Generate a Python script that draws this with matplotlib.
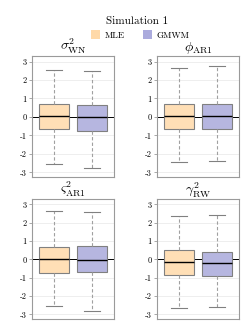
import matplotlib
matplotlib.use("Agg")
import matplotlib.pyplot as plt
from matplotlib.patches import Patch

plt.rcParams['font.family'] = 'serif'
plt.rcParams['font.serif'] = ['cmr10', 'DejaVu Serif']
plt.rcParams['mathtext.fontset'] = 'cm'
plt.rcParams['axes.unicode_minus'] = False
plt.rcParams['axes.formatter.use_mathtext'] = True

methods = ["MLE", "GMWM"]
titles = [r"$\sigma^2_{\mathrm{WN}}$", r"$\phi_{\mathrm{AR1}}$",
          r"$\varsigma^2_{\mathrm{AR1}}$", r"$\gamma^2_{\mathrm{RW}}$"]
# stats per panel per method: (lower whisker, Q1, median, Q3, upper whisker)
mle_stats = [(-2.54, -0.67, 0.05, 0.70, 2.52),
             (-2.43, -0.63, 0.03, 0.70, 2.63),
             (-2.53, -0.72, 0.04, 0.67, 2.62),
             (-2.64, -0.83, -0.14, 0.49, 2.35)]
gmwm_stats = [(-2.74, -0.74, 0.02, 0.63, 2.50),
              (-2.38, -0.67, 0.05, 0.70, 2.76),
              (-2.80, -0.69, -0.02, 0.72, 2.58),
              (-2.62, -0.90, -0.20, 0.43, 2.40)]
yticks = [-3, -2, -1, 0, 1, 2, 3]
ytick_labels = ["-3", "-2", "-1", "0", "1", "2", "3"]
colors = ["#FFDFB6", "#B6B6E0"]
legend_colors = ["#FFD9A8", "#ABABDD"]

fig = plt.figure(figsize=(2.5, 3.25), dpi=100)
W, H = 250, 325
panels = [(32, 56, 82, 121), (157, 56, 82, 121), (32, 199, 82, 120), (157, 199, 82, 120)]

for i, (x0, y0, w, h) in enumerate(panels):
    ax = fig.add_axes([x0 / W, 1 - (y0 + h) / H, w / W, h / H])
    bxp = []
    for st in (mle_stats[i], gmwm_stats[i]):
        bxp.append(dict(whislo=st[0], q1=st[1], med=st[2], q3=st[3], whishi=st[4], fliers=[]))
    b = ax.bxp(bxp, positions=[1, 2], widths=0.8, patch_artist=True, showfliers=False,
               boxprops=dict(edgecolor="#808080", linewidth=0.8),
               medianprops=dict(color="black", linewidth=1.0),
               whiskerprops=dict(color="#a0a0a0", linewidth=0.8, linestyle=(0, (3, 2))),
               capprops=dict(color="#808080", linewidth=0.8), capwidths=0.4)
    for p, c in zip(b['boxes'], colors):
        p.set_facecolor(c)
    ax.axhline(0, color="black", linewidth=0.7, zorder=1)
    ax.set_xlim(0.42, 2.58)
    ax.set_ylim(-3.25, 3.3)
    ax.set_yticks(yticks)
    ax.set_yticklabels(ytick_labels, fontsize=6)
    ax.set_xticks([])
    ax.grid(axis='y', color="#ebebeb", linewidth=0.6)
    ax.set_axisbelow(True)
    for s in ax.spines.values():
        s.set_color("#9a9a9a")
        s.set_linewidth(0.8)
    ax.tick_params(axis='y', length=2, width=0.6, color="#9a9a9a", pad=2)
    ax.set_title(titles[i], fontsize=10, pad=1)

fig.text(137 / W, 1 - 21 / H, "Simulation 1", ha="center", va="center", fontsize=8)
handles = [Patch(facecolor=c, edgecolor="none") for c in legend_colors]
fig.legend(handles, methods, loc="center", bbox_to_anchor=(140 / W, 1 - 35 / H), ncol=2,
           frameon=False, fontsize=6.5, handlelength=1.0, handleheight=1.0,
           columnspacing=2.0, handletextpad=0.5)

fig.savefig("out.png", dpi=100)
